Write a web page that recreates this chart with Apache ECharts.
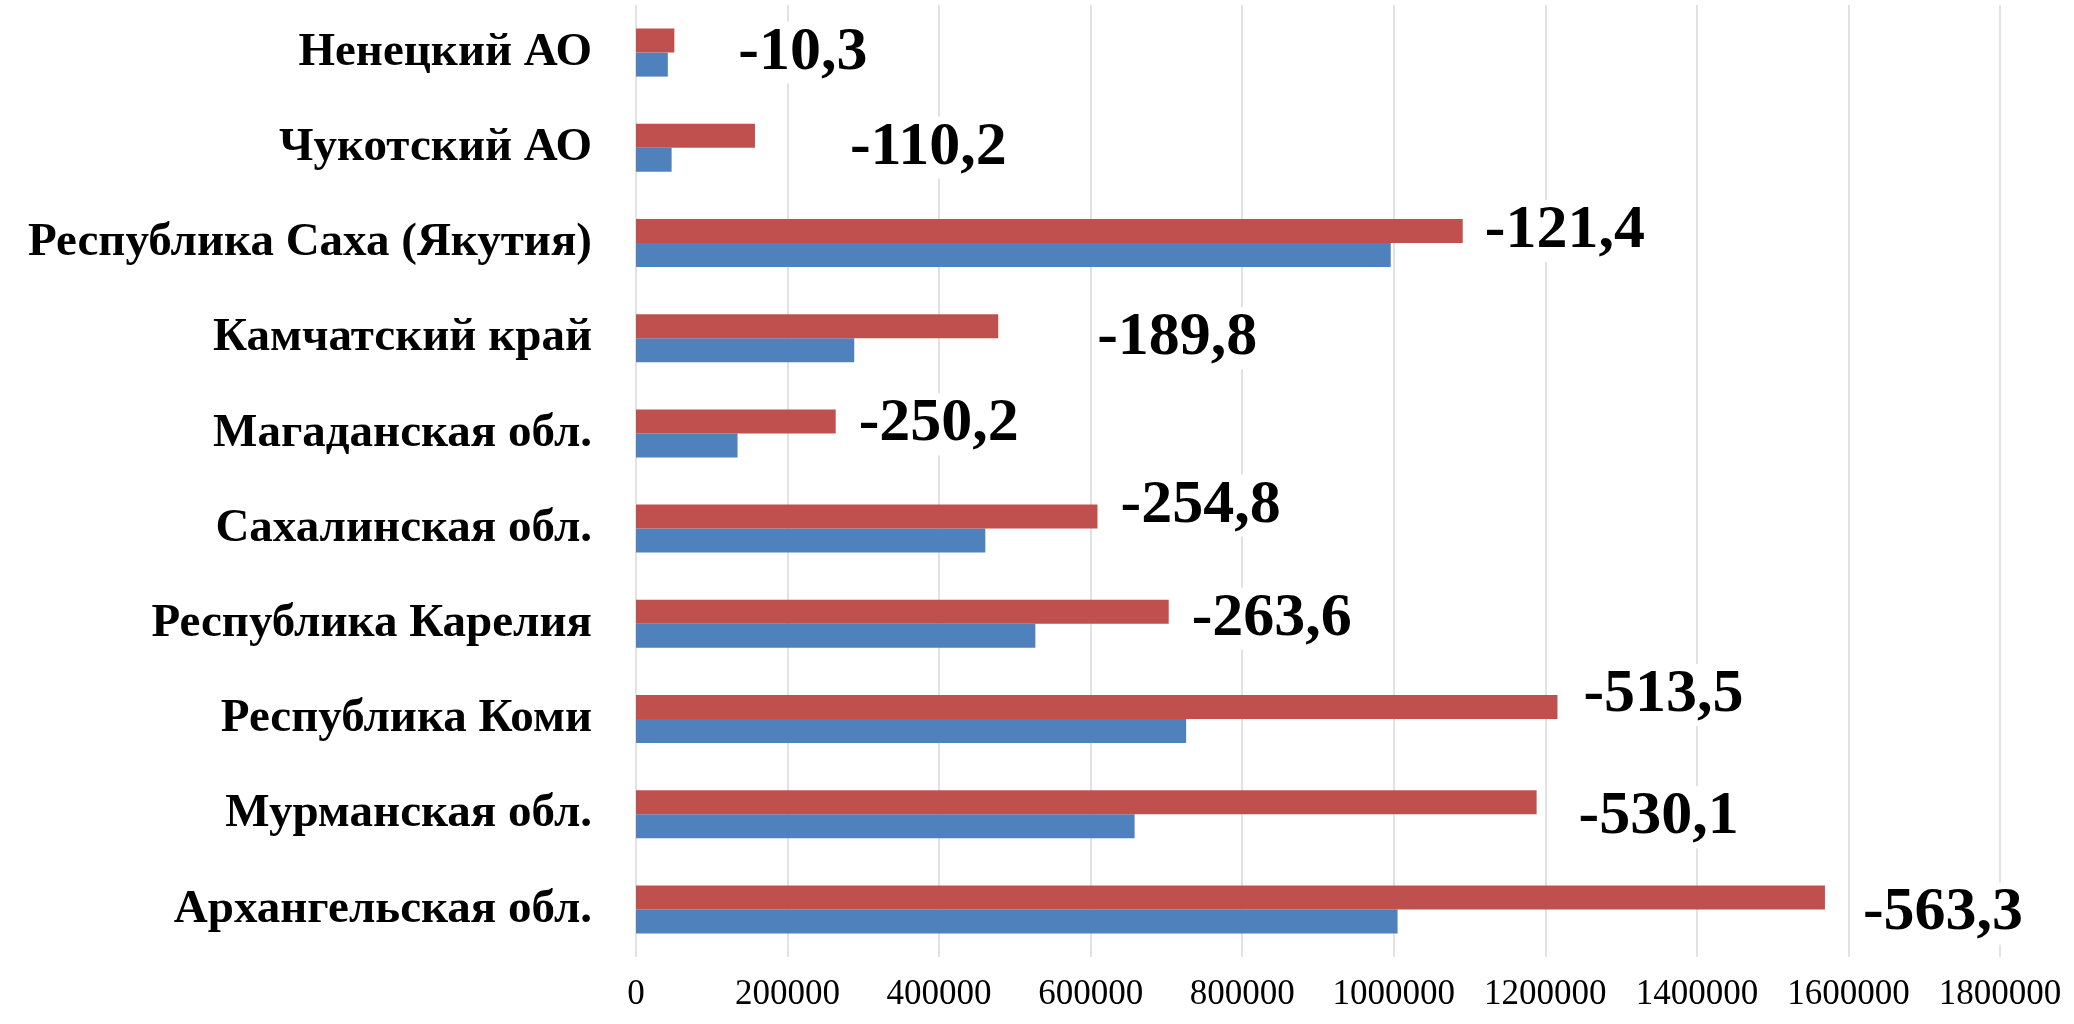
<!DOCTYPE html>
<html>
<head>
<meta charset="utf-8">
<script src="https://cdn.jsdelivr.net/npm/echarts@6/dist/echarts.min.js"></script>
<style>
  html, body { margin: 0; padding: 0; background: #fff; }
</style>
</head>
<body>
<div id="chart" style="width: 2074px; height: 1024px;"></div>
<script>
// регионы сверху вниз
var regions = ['Ненецкий АО', 'Чукотский АО', 'Республика Саха (Якутия)', 'Камчатский край',
  'Магаданская обл.', 'Сахалинская обл.', 'Республика Карелия', 'Республика Коми',
  'Мурманская обл.', 'Архангельская обл.'];
var blueValues = [42000, 47000, 996000, 288000, 134000, 461000, 527000, 726000, 658000, 1005000];
var redValues = [50600, 157000, 1091000, 478000, 263500, 609000, 703000, 1216000, 1188500, 1569000];
var changeLabels = ['-10,3', '-110,2', '-121,4', '-189,8', '-250,2', '-254,8', '-263,6', '-513,5', '-530,1', '-563,3'];
var xTicks = [0, 200000, 400000, 600000, 800000, 1000000, 1200000, 1400000, 1600000, 1800000];

// сдвиг подписей относительно конца красного столбца (px)
var labelShift = [[62, 12], [93, 12], [20, 0], [97, 12], [21, 3], [21, -11], [21, 7], [24, -12], [40, 15], [36, 16]];

var font = '"Liberation Serif", "Times New Roman", serif';

var option = {
  animation: false,
  grid: {
    left: 636,
    right: 74,
    top: 5,
    bottom: 67
  },
  xAxis: {
    type: 'value',
    min: xTicks[0],
    max: xTicks[xTicks.length - 1],
    interval: 200000,
    axisLine: { show: false },
    axisTick: { show: false },
    splitLine: {
      lineStyle: { color: '#d9d9d9', width: 1.5 }
    },
    axisLabel: {
      color: '#000',
      fontFamily: font,
      fontSize: 35,
      margin: 20,
      formatter: function (v) { return String(v); }
    }
  },
  yAxis: {
    type: 'category',
    inverse: true,
    data: regions,
    axisLine: { show: false },
    axisTick: { show: false },
    axisLabel: {
      color: '#000',
      fontFamily: font,
      fontWeight: 'bold',
      fontSize: 47,
      margin: 44
    }
  },
  series: [
    {
      name: 'red',
      type: 'bar',
      barWidth: 24,
      barGap: '0%',
      z: 3,
      itemStyle: { color: '#C0504D' },
      data: redValues.map(function (v, i) {
        return {
          value: v,
          label: {
            show: true,
            position: 'right',
            distance: 0,
            offset: labelShift[i],
            formatter: changeLabels[i]
          }
        };
      }),
      label: {
        color: '#000',
        fontFamily: font,
        fontWeight: 'bold',
        fontSize: 62,
        backgroundColor: '#fff',
        padding: [0, 2]
      }
    },
    {
      name: 'blue',
      type: 'bar',
      barWidth: 24,
      barGap: '0%',
      itemStyle: { color: '#4F81BD' },
      data: blueValues
    }
  ]
};

var myChart = echarts.init(document.getElementById('chart'));
myChart.setOption(option);
</script>
</body>
</html>
